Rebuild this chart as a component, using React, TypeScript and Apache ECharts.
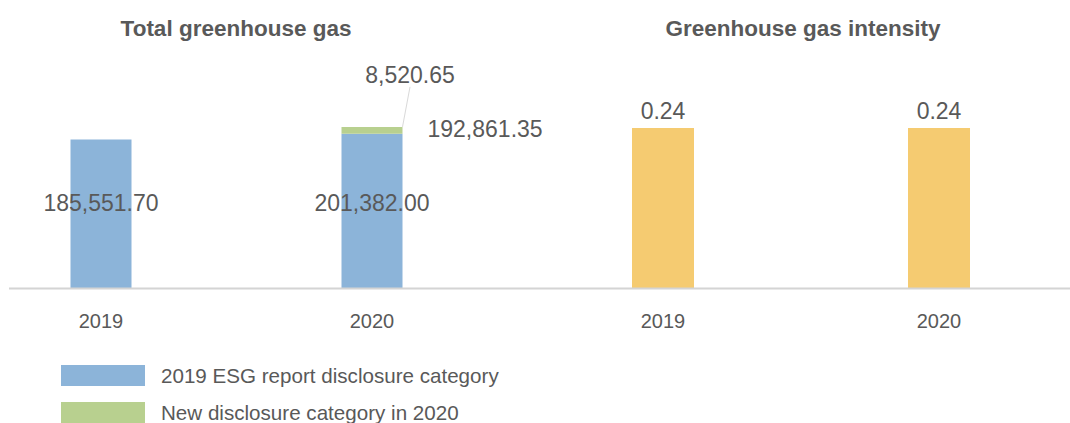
import React, { useEffect, useRef } from "react";
import * as echarts from "echarts";

const years = ["2019", "2020"];
const baseCategory = [185551.7, 192861.35];
const newCategory = [0, 8520.65];
const intensity = [0.24, 0.24];
const seriesNames = ["2019 ESG report disclosure category", "New disclosure category in 2020", "Total"];
const titles = ["Total greenhouse gas", "Greenhouse gas intensity"];

const FONT = "'Liberation Sans', Arial, Helvetica, sans-serif";
const TXT = "#595959";

const fmt = (v: number, d = 2) =>
  v.toLocaleString("en-US", { minimumFractionDigits: d, maximumFractionDigits: d });

export default function App() {
  const ref = useRef<HTMLDivElement>(null);
  useEffect(() => {
    if (!ref.current) return;
    const chart = echarts.init(ref.current, null, { renderer: "svg" });
    const totals = baseCategory.map((v, i) => +(v + newCategory[i]).toFixed(2));
    const labelBase = { color: TXT, fontSize: 23, fontFamily: FONT };
    const xAxisCommon = {
      type: "category",
      data: years,
      boundaryGap: false,
      axisLine: { show: false },
      axisTick: { show: false },
      splitLine: { show: false },
      axisLabel: { color: TXT, fontSize: 20, fontFamily: FONT, margin: 23 },
    };
    chart.setOption({
      animation: false,
      title: [
        {
          text: titles[0],
          left: 236,
          textAlign: "center",
          top: 17,
          padding: 0,
          textStyle: { color: TXT, fontSize: 22.5, fontWeight: "bold", fontFamily: FONT },
        },
        {
          text: titles[1],
          left: 803,
          textAlign: "center",
          top: 17,
          padding: 0,
          textStyle: { color: TXT, fontSize: 22.5, fontWeight: "bold", fontFamily: FONT },
        },
      ],
      legend: {
        data: [seriesNames[0], seriesNames[1]],
        orient: "vertical",
        left: 61,
        top: 365,
        padding: 0,
        itemWidth: 84,
        itemHeight: 21,
        itemGap: 16,
        icon: "rect",
        selectedMode: false,
        textStyle: { color: TXT, fontSize: 20.6, fontFamily: FONT, padding: [0, 0, 0, 11] },
      },
      grid: [
        { left: 101, width: 271, top: 88, height: 200 },
        { left: 663, width: 276, top: 88, height: 200 },
      ],
      xAxis: [
        { ...xAxisCommon, gridIndex: 0 },
        { ...xAxisCommon, gridIndex: 1 },
      ],
      yAxis: [
        { type: "value", gridIndex: 0, min: 0, max: 250000, show: false, splitLine: { show: false } },
        { type: "value", gridIndex: 1, min: 0, max: 0.3, show: false, splitLine: { show: false } },
      ],
      graphic: [
        {
          type: "line",
          shape: { x1: 9, y1: 288.5, x2: 1070, y2: 288.5 },
          style: { stroke: "#d4d4d4", lineWidth: 2 },
          z: 10,
        },
      ],
      series: [
        {
          name: seriesNames[0],
          type: "bar",
          stack: "ghg",
          xAxisIndex: 0,
          yAxisIndex: 0,
          barWidth: 61,
          barGap: "-100%",
          clip: false,
          itemStyle: { color: "#8CB4D9" },
          data: baseCategory.map((v, i) => ({
            value: v,
            label:
              i === 1
                ? {
                    show: true,
                    ...labelBase,
                    position: ["100%", "0%"],
                    align: "left",
                    verticalAlign: "middle",
                    offset: [25, -5],
                    formatter: () => fmt(v),
                  }
                : { show: false },
          })),
        },
        {
          name: seriesNames[1],
          type: "bar",
          stack: "ghg",
          xAxisIndex: 0,
          yAxisIndex: 0,
          barWidth: 61,
          barGap: "-100%",
          clip: false,
          itemStyle: { color: "#B8D08F" },
          labelLayout: { dx: 38, dy: -35 },
          labelLine: { show: true, lineStyle: { color: "#d9d9d9", width: 1 } },
          data: newCategory.map((v) => ({
            value: v,
            label:
              v > 0
                ? { show: true, ...labelBase, position: "top", distance: 5, formatter: () => fmt(v) }
                : { show: false },
          })),
        },
        {
          name: seriesNames[2],
          type: "bar",
          xAxisIndex: 0,
          yAxisIndex: 0,
          barWidth: 61,
          barGap: "-100%",
          clip: false,
          silent: true,
          z: 5,
          itemStyle: { color: "rgba(0,0,0,0)" },
          label: {
            show: true,
            ...labelBase,
            position: "insideBottom",
            distance: 74,
            formatter: (p: any) => fmt(p.value),
          },
          data: totals,
        },
        {
          name: "Greenhouse gas intensity",
          type: "bar",
          xAxisIndex: 1,
          yAxisIndex: 1,
          barWidth: 62,
          clip: false,
          itemStyle: { color: "#F5CB71" },
          label: {
            show: true,
            ...labelBase,
            position: "top",
            distance: 6,
            formatter: (p: any) => fmt(p.value),
          },
          data: intensity,
        },
      ],
    });
    return () => chart.dispose();
  }, []);
  return (
    <div
      ref={ref}
      style={{ position: "fixed", left: 0, top: 0, width: 1070, height: 423, background: "#fff" }}
    />
  );
}
